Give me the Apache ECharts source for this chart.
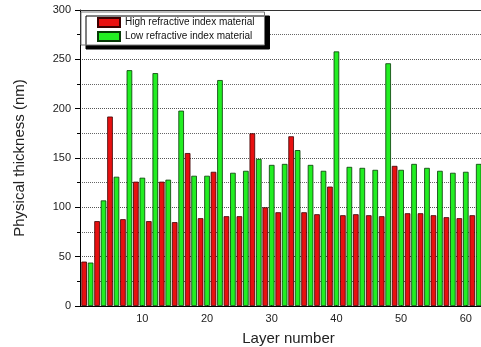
<!DOCTYPE html>
<html><head><meta charset="utf-8">
<script src="https://cdn.jsdelivr.net/npm/echarts@6/dist/echarts.min.js"></script>
<style>html,body{margin:0;padding:0;background:#fff}#c{width:481px;height:347px}</style>
</head><body><div id="c"></div>
<script>
const highLayers = [1,3,5,7,9,11,13,15,17,19,21,23,25,27,29,31,33,35,37,39,41,43,45,47,49,51,53,55,57,59,61];
const highValues = [45,86,192,88,126,86,126,85,155,89,136,91,91,175,100,95,172,95,93,121,92,93,92,91,142,94,94,92,90,89,92];
const lowLayers = [2,4,6,8,10,12,14,16,18,20,22,24,26,28,30,32,34,36,38,40,42,44,46,48,50,52,54,56,58,60,62];
const lowValues = [44,107,131,239,130,236,128,198,132,132,229,135,137,149,143,144,158,143,137,258,141,140,138,246,138,144,140,137,135,136,144];
const xTickLabels = [10,20,30,40,50,60];
const seriesNames = ['High refractive index material','Low refractive index material'];

const font = '"Liberation Sans", Arial, sans-serif';
const chart = echarts.init(document.getElementById('c'), null, {renderer:'canvas'});
chart.setOption({
  animation:false,
  backgroundColor:'#fff',
  grid:{left:80, top:10, right:0, bottom:41, containLabel:false, outerBoundsMode:'none'},
  legend:{
    orient:'vertical', left:81, top:12, icon:'rect',
    padding:[5,10,3,16], itemGap:3, itemWidth:22, itemHeight:9,
    backgroundColor:'#fff', borderColor:'#777', borderWidth:1,
    shadowColor:'#000', shadowBlur:0, shadowOffsetX:5, shadowOffsetY:4,
    textStyle:{fontFamily:font, fontSize:10, color:'#111'},
    data:seriesNames
  },
  xAxis:[{
    type:'value', min:0.36, max:62.35,
    axisLine:{show:true, lineStyle:{color:'#000', width:1}},
    axisTick:{show:true, inside:true, length:3, customValues:xTickLabels, lineStyle:{color:'#000'}},
    axisLabel:{customValues:xTickLabels, fontFamily:font, fontSize:11, color:'#222', margin:7},
    splitLine:{show:false},
    name:'Layer number', nameLocation:'middle', nameGap:25,
    nameTextStyle:{fontFamily:font, fontSize:15, color:'#222', padding:[0,0,0,16]}
  },{
    type:'value', position:'top', min:0.36, max:62.35,
    axisLine:{show:true, onZero:false, lineStyle:{color:'#333', width:1}},
    axisTick:{show:false}, axisLabel:{show:false}, splitLine:{show:false}
  }],
  yAxis:{
    type:'value', min:0, max:300, interval:50,
    axisLine:{show:true, lineStyle:{color:'#000', width:1}},
    axisTick:{show:true, length:5, lineStyle:{color:'#000'}},
    minorTick:{show:true, splitNumber:2, length:3, lineStyle:{color:'#000'}},
    axisLabel:{fontFamily:font, fontSize:11, color:'#222', margin:9},
    splitLine:{show:true, lineStyle:{color:'#555', type:'dotted', width:1}},
    minorSplitLine:{show:true, lineStyle:{color:'#666', type:'dotted', width:1}},
    name:'Physical thickness (nm)', nameLocation:'middle', nameGap:53,
    nameTextStyle:{fontFamily:font, fontSize:15, color:'#222'}
  },
  series:[{
    name:seriesNames[0], type:'bar', barWidth:5.6, barGap:'-100%',
    itemStyle:{color:'#e81010', borderColor:'#3a0000', borderWidth:0.8},
    data:highLayers.map((l,i)=>[l,highValues[i]])
  },{
    name:seriesNames[1], type:'bar', barWidth:5.6, barGap:'-100%',
    itemStyle:{color:'#22ee22', borderColor:'#063a06', borderWidth:0.8},
    data:lowLayers.map((l,i)=>[l,lowValues[i]])
  }]
});
</script></body></html>
